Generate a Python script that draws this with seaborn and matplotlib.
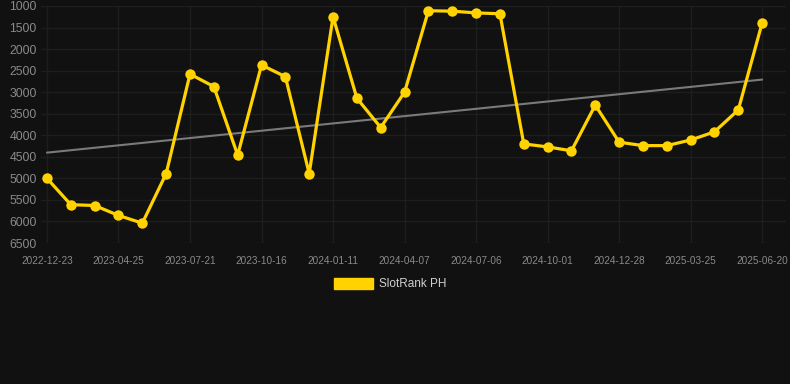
import numpy as np
import pandas as pd
import matplotlib
matplotlib.use("Agg")
import matplotlib.pyplot as plt
import matplotlib.patches as mpatches
import seaborn as sns

# ---- data (rank, lower is better) ----
tick_labels = ['2022-12-23', '2023-04-25', '2023-07-21', '2023-10-16', '2024-01-11',
               '2024-04-07', '2024-07-06', '2024-10-01', '2024-12-28', '2025-03-25',
               '2025-06-20']
rank_values = [5000, 5610, 5630, 5860, 6040, 4890, 2580, 2870, 4460, 2370,
               2640, 4890, 1250, 3140, 3820, 3000, 1110, 1120, 1160, 1180,
               4200, 4270, 4360, 3300, 4160, 4240, 4240, 4110, 3920, 3410,
               1390]
series_name = 'SlotRank PH'
y_ticks = list(range(1000, 7000, 500))

BG = '#111111'
GOLD = '#FFD200'

df = pd.DataFrame({'idx': np.arange(len(rank_values)), 'rank': rank_values})

sns.set_style('dark')
plt.rcParams['font.family'] = ['Liberation Sans', 'DejaVu Sans']

fig = plt.figure(figsize=(7.9, 3.84), dpi=100, facecolor=BG)
ax = fig.add_axes([41 / 790, 1 - 243 / 384, (786 - 41) / 790, (243 - 6) / 384])
ax.set_facecolor(BG)

# trend line
sns.regplot(data=df, x='idx', y='rank', scatter=False, ci=None, ax=ax,
            line_kws={'color': '#7a7a7a', 'lw': 1.5, 'zorder': 2})

# main series
sns.lineplot(data=df, x='idx', y='rank', ax=ax, color=GOLD, lw=2.3,
             marker='o', markersize=7.5, markeredgewidth=0, zorder=3)

ax.set_ylim(6500, 1000)
ax.set_yticks(y_ticks)
ax.set_xlim(-0.25, len(rank_values))
ax.set_xticks(np.arange(0, len(rank_values), 3))
ax.set_xticklabels(tick_labels)
ax.tick_params(axis='y', labelsize=8.8, colors='#8a8a8a', length=0, pad=3)
ax.tick_params(axis='x', labelsize=7.2, colors='#8a8a8a', length=0, pad=9)
ax.grid(True, color='#1e1e1e', lw=1.0)
ax.set_xlabel('')
ax.set_ylabel('')
for s in ax.spines.values():
    s.set_visible(False)

handle = mpatches.Patch(color=GOLD, label=series_name)
fig.legend(handles=[handle], loc='center', bbox_to_anchor=(390 / 790, 1 - 284 / 384),
           frameon=False, fontsize=8.5, labelcolor='#d0d0d0',
           handlelength=3.3, handleheight=1.1, handletextpad=0.5)

fig.savefig('out.png', dpi=100, facecolor=BG)
